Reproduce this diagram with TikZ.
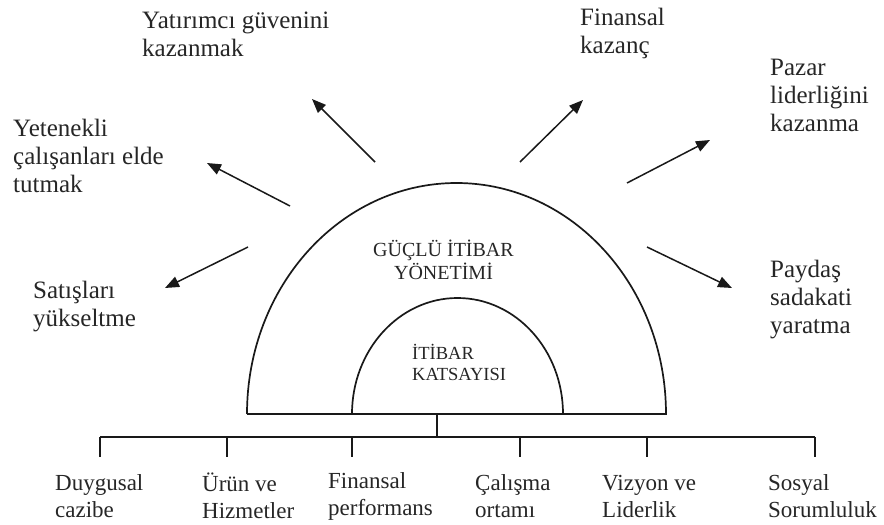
\documentclass[tikz,border=0pt]{standalone}
\usepackage{fontspec}
\setmainfont{Liberation Serif}
\usetikzlibrary{arrows.meta}
\begin{document}
\begin{tikzpicture}[x=1pt,y=-1pt,
  lbl/.style={anchor=west, align=left, inner sep=0pt, text=black!85,
    font=\fontsize{23}{27}\selectfont},
  toplbl/.style={lbl, font=\fontsize{25}{28}\selectfont},
  domelbl/.style={align=center, inner sep=0pt, text=black!85,
    font=\fontsize{20}{23}\selectfont},
  innerlbl/.style={anchor=west, align=left, inner sep=0pt, text=black!85,
    font=\fontsize{18.5}{21}\selectfont},
  arr/.style={line width=1.5pt, black!90, -{Triangle[length=14pt,width=11pt]}},
  ln/.style={line width=1.7pt, black!90}]
\useasboundingbox (0,0) rectangle (884,525);

% domes
\draw[ln] (247,414) arc[start angle=180, end angle=0, x radius=209.5pt, y radius=231pt];
\draw[ln] (352,414) arc[start angle=180, end angle=0, x radius=105.5pt, y radius=116pt];
\draw[ln] (247,414) -- (667,414);

\node[domelbl] (guclu) at (443.5,259.5) {GÜÇLÜ İTİBAR\\YÖNETİMİ};
\node[innerlbl] (katsayi) at (412,362) {İTİBAR\\KATSAYISI};

% tree
\coordinate (stemtop) at (437,414);
\coordinate (stembot) at (437,437);
\coordinate (barL) at (100,437);
\coordinate (barR) at (815,437);
\draw[ln] (stemtop) -- (stembot);
\draw[ln] (barL) -- (barR);

\node[lbl] (duygu) at (55,496) {Duygusal\\cazibe};
\node[lbl] (urun) at (202,496) {Ürün ve\\Hizmetler};
\node[lbl] (finp) at (328,496) {Finansal\\performans};
\node[lbl] (calis) at (475,496) {Çalışma\\ortamı};
\node[lbl] (vizyon) at (602,496) {Vizyon ve\\Liderlik};
\node[lbl] (sosyal) at (768,496) {Sosyal\\Sorumluluk};

\foreach \x/\n in {100/a,227/b,352/c,520/d,647/e,815/f}{
  \coordinate (t\n) at (\x,437);
  \coordinate (tb\n) at (\x,457);
  \draw[ln] (t\n) -- (tb\n);
}

% outcome labels
\node[toplbl] (yatirim) at (142,34) {Yatırımcı güvenini\\kazanmak};
\node[toplbl] (yetenek) at (13,155.5) {Yetenekli\\çalışanları elde\\tutmak};
\node[toplbl] (satis) at (33,307) {Satışları\\yükseltme};
\node[toplbl] (finkaz) at (580,33) {Finansal\\kazanç};
\node[toplbl] (pazar) at (770,95) {Pazar\\liderliğini\\kazanma};
\node[toplbl] (paydas) at (770,300) {Paydaş\\sadakati\\yaratma};

% arrows
\coordinate (a1s) at (248,247); \coordinate (a1e) at (165,288);
\coordinate (a2s) at (290,206); \coordinate (a2e) at (207,163);
\coordinate (a3s) at (375,162); \coordinate (a3e) at (312,99);
\coordinate (a4s) at (520,162); \coordinate (a4e) at (583,100);
\coordinate (a5s) at (627,183); \coordinate (a5e) at (710,140);
\coordinate (a6s) at (647,247); \coordinate (a6e) at (732,288);
\foreach \i in {1,...,6}{\draw[arr] (a\i s) -- (a\i e);}
\end{tikzpicture}
\end{document}
